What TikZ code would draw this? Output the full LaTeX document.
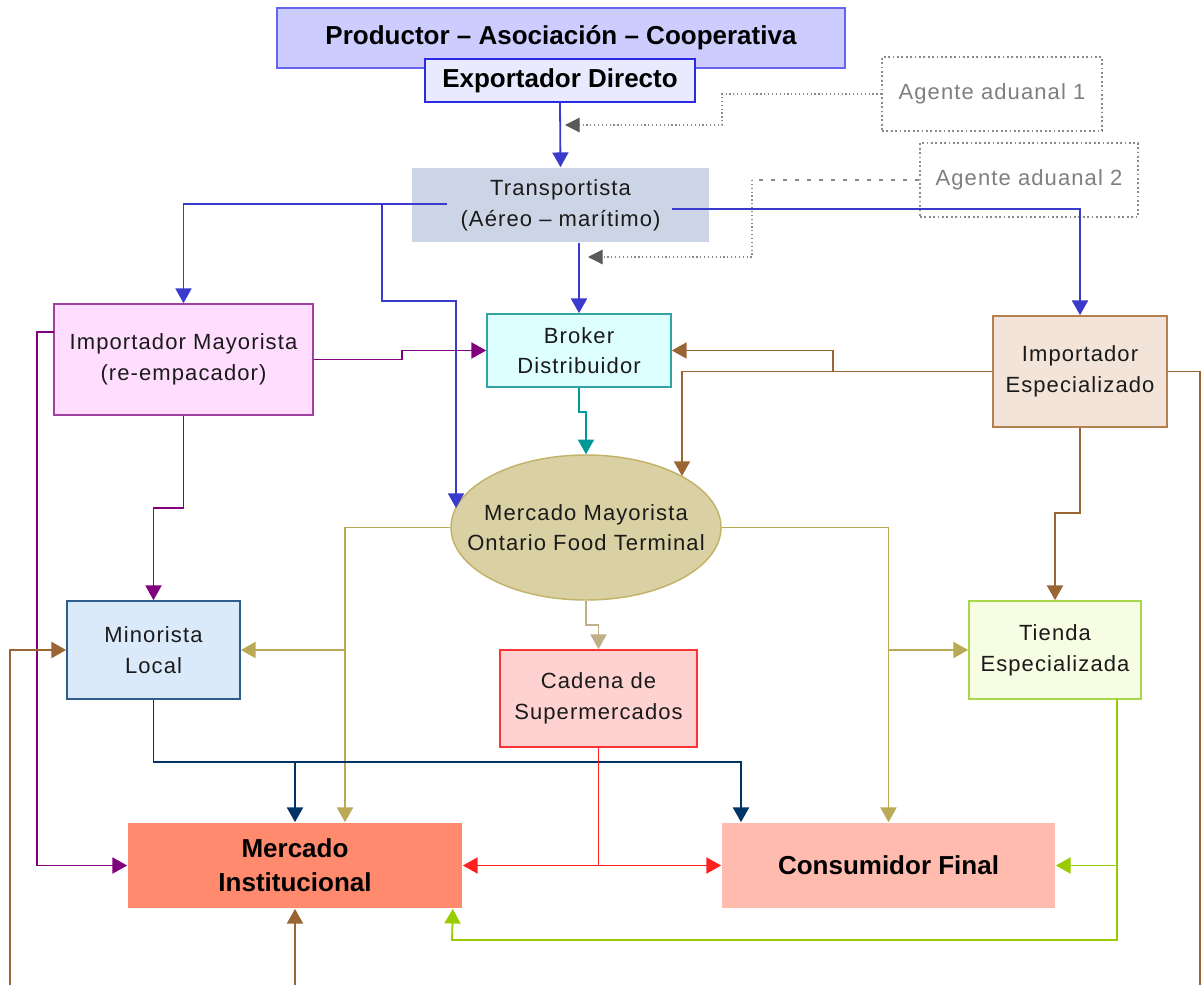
\documentclass[tikz,border=0pt]{standalone}
\usepackage{fontspec}
\setmainfont{Liberation Sans}
\newfontfamily\regfam[LetterSpace=5]{Liberation Sans}
\usetikzlibrary{arrows.meta,shapes.geometric,calc}
\newcommand{\myreg}{\regfam\fontsize{16.5}{23}\selectfont}
\newcommand{\mybold}{\bfseries\fontsize{19.5}{25.5}\selectfont}
\definecolor{prodfill}{HTML}{CCCCFF}
\definecolor{prodline}{HTML}{6464EE}
\definecolor{expfill}{HTML}{EAEAFF}
\definecolor{expline}{HTML}{2A2AE6}
\definecolor{transfill}{HTML}{CCD5E6}
\definecolor{blueL}{HTML}{3A3ACC}
\definecolor{impmfill}{HTML}{FFDDFF}
\definecolor{impmline}{HTML}{A040A0}
\definecolor{purpleL}{HTML}{800080}
\definecolor{brokerfill}{HTML}{DDFFFF}
\definecolor{brokerline}{HTML}{33A3A3}
\definecolor{tealL}{HTML}{009999}
\definecolor{impefill}{HTML}{F2E4D8}
\definecolor{impeline}{HTML}{B58050}
\definecolor{brownL}{HTML}{996633}
\definecolor{mmfill}{HTML}{D9D1A3}
\definecolor{mmline}{HTML}{C2B26A}
\definecolor{oliveL}{HTML}{BBAA55}
\definecolor{tanL}{HTML}{C0B08A}
\definecolor{minorfill}{HTML}{DBEAFB}
\definecolor{minorline}{HTML}{2E5E8E}
\definecolor{navyL}{HTML}{003366}
\definecolor{cadfill}{HTML}{FFD2D2}
\definecolor{cadline}{HTML}{FF3333}
\definecolor{redL}{HTML}{FF2020}
\definecolor{tiendafill}{HTML}{F6FDE2}
\definecolor{tiendaline}{HTML}{A6D64A}
\definecolor{ygL}{HTML}{99CC00}
\definecolor{minstfill}{HTML}{FF8A6E}
\definecolor{consfill}{HTML}{FFBCAE}
\definecolor{agline}{HTML}{8A8A8A}
\definecolor{agtext}{HTML}{7F7F7F}
\definecolor{agarrow}{HTML}{5A5A5A}
\definecolor{txt}{HTML}{1A1A1A}
\begin{document}
\begin{tikzpicture}[x=0.75pt,y=-0.75pt,
  conn/.style={line width=1.35pt,-{Triangle[length=11pt,width=12pt]}},
  plainline/.style={line width=1.35pt},
  bx/.style={rectangle,inner sep=0pt,align=center,line width=1.3pt,font=\myreg,text=txt},
  sz/.style 2 args={minimum width=#1*0.75pt,minimum height=#2*0.75pt},
  agbox/.style={bx,draw=agline,dotted,line width=0.9pt,text=agtext},
  agpath/.style={agline,line width=0.9pt,dotted},
  agtip/.style={-{Triangle[length=11pt,width=11pt,color=agarrow]}}
]
\useasboundingbox[fill=white] (0,0) rectangle (1204,985);

% nodes
\node[bx,sz={568}{60},fill=prodfill,draw=prodline,font=\mybold,text=black] (prod) at (561,38) {Productor – Asociación – Cooperativa};
\node[bx,sz={270}{43},fill=expfill,draw=expline,line width=1.6pt,font=\mybold,text=black] (exp) at (560,80.5) {Exportador Directo};
\node[agbox,sz={220}{74}] (ag1) at (992,94) {Agente aduanal 1};
\node[agbox,sz={218}{74}] (ag2) at (1029,180) {Agente aduanal 2};
\node[bx,sz={297}{74},fill=transfill] (trans) at (560.5,205) {Transportista\\(Aéreo – marítimo)};
\node[bx,sz={259}{111},fill=impmfill,draw=impmline] (impm) at (183.5,359.5) {Importador Mayorista\\(re-empacador)};
\node[bx,sz={184}{73},fill=brokerfill,draw=brokerline] (broker) at (579,350.5) {Broker\\Distribuidor};
\node[bx,sz={174}{111},fill=impefill,draw=impeline] (impe) at (1080,371.5) {Importador\\Especializado};
\node[ellipse,inner sep=0pt,line width=1.1pt,sz={270}{145},fill=mmfill,draw=mmline] (mm) at (586,527.5) {};
\node[align=center,font=\myreg,text=txt,inner sep=0pt] (mmtext) at (mm.center) {Mercado Mayorista\\Ontario Food Terminal};
\node[bx,sz={173}{98},fill=minorfill,draw=minorline] (minor) at (153.5,650) {Minorista\\Local};
\node[bx,sz={197}{97},fill=cadfill,draw=cadline] (cadena) at (598.5,698.5) {Cadena de\\Supermercados};
\node[bx,sz={172}{98},fill=tiendafill,draw=tiendaline] (tienda) at (1055,650) {Tienda\\Especializada};
\node[bx,sz={334}{85},fill=minstfill,font=\mybold,text=black] (minst) at (295,865.5) {Mercado\\Institucional};
\node[bx,sz={333}{85},fill=consfill,font=\mybold,text=black] (cons) at (888.5,865.5) {Consumidor Final};

% customs agents
\draw[agpath,agtip] (ag1.west) -- (722,94) -- (722,125) -- (565,125);
\draw[agline,line width=0.9pt,dash pattern=on 3pt off 6pt] (ag2.west) -- (752,180);
\draw[agpath,agtip] (752,180) -- (752,257) -- (588,257);

% blue
\draw[conn,blueL] (exp.south) -- (trans.north);
\draw[conn,blueL] (447,204) -| (impm.north);
\draw[conn,blueL] (382,204) -- (382,301) -- (456,301) -- (456,508);
\draw[conn,blueL] (broker.north |- trans.south) -- (broker.north);
\draw[conn,blueL] (672,209) -| (impe.north);

% purple
\draw[conn,purpleL] (impm.east) -- (402,359.5) -- (402,350.5) -- (broker.west);
\draw[conn,purpleL] (impm.south) -- (183.5,508) -| (minor.north);
\draw[conn,purpleL] (54,332) -- (37,332) |- (minst.west);

% teal
\draw[conn,tealL] (broker.south) -- (579,412) -| (mm.north);

% brown
\draw[conn,brownL] (impe.west) -| (682,476);
\draw[conn,brownL] (833,371.5) |- (broker.east);
\draw[plainline,brownL] (impe.east) -| (1200,985);
\draw[conn,brownL] (10,985) |- (minor.west);
\draw[conn,brownL] (295,985) -- (minst.south);
\draw[conn,brownL] (impe.south) -- (1080,513) -| (tienda.north);

% olive
\draw[conn,oliveL] (mm.west) -| ($(minst.north)+(50,0)$);
\draw[conn,oliveL] (345,650) -- (minor.east);
\draw[conn,oliveL] (mm.east) -| (cons.north);
\draw[conn,oliveL] (888.5,650) -- (tienda.west);

% tan
\draw[conn,tanL] (mm.south) -- (586,625) -| (cadena.north);

% navy
\draw[conn,navyL] (minor.south) |- (741,762) -- ($(cons.north)+(-147.5,0)$);
\draw[conn,navyL] (295,762) -- (minst.north);

% red
\draw[plainline,redL] (cadena.south) -- (598.5,865.5);
\draw[conn,redL] (598.5,865.5) -- (minst.east);
\draw[conn,redL] (598.5,865.5) -- (cons.west);

% yellow-green
\draw[conn,ygL] (1117,699) |- (452,940) -- ($(minst.south east)+(-10,0)$);
\draw[conn,ygL] (1117,865.5) -- (cons.east);
\end{tikzpicture}
\end{document}
